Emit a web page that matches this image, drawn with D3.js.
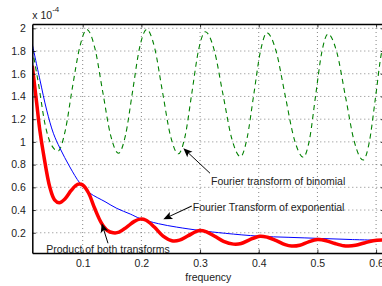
<!DOCTYPE html>
<html>
  <head>
    <meta charset="utf-8">
    <script src="https://d3js.org/d3.v7.min.js"></script>
    <style type="text/css">
      body { margin: 0; background: #fff; }
      text { font-family: "Liberation Sans", Arial, sans-serif; fill: #222; }
      .grid line { stroke: #666; stroke-width: 0.8; stroke-dasharray: 1,3; }
    </style>
  </head>
  <body>
    <div class="plot_canvas"></div>
    <script>
      // frequency samples and values (units of 1e-4)
      var freqBinomial = [0.0141, 0.025, 0.036, 0.047, 0.058,
        0.0703, 0.0825, 0.0948, 0.107, 0.1205, 0.134, 0.1475, 0.161,
        0.173, 0.185, 0.197, 0.209, 0.2225, 0.236, 0.2495, 0.263,
        0.2745, 0.286, 0.2975, 0.309, 0.324, 0.339, 0.354, 0.369,
        0.380, 0.3915, 0.403, 0.414, 0.4295, 0.445, 0.4605, 0.476,
        0.4865, 0.497, 0.5075, 0.518, 0.533, 0.548, 0.563, 0.578,
        0.5885, 0.599, 0.6095, 0.614];
      var binomial = [1.82, 1.50, 1.15, 0.97, 0.92,
        1.10, 1.48, 1.83, 1.99, 1.83, 1.445, 1.06, 0.90,
        1.06, 1.445, 1.83, 1.99, 1.83, 1.44, 1.055, 0.895,
        1.05, 1.43, 1.81, 1.97, 1.81, 1.42, 1.03, 0.87,
        1.03, 1.415, 1.80, 1.96, 1.80, 1.41, 1.025, 0.865,
        1.02, 1.41, 1.79, 1.95, 1.79, 1.395, 1.00, 0.84,
        1.00, 1.39, 1.79, 1.87];

      var freqExponential = [0.0141, 0.0272, 0.0386, 0.05, 0.0613, 0.078, 0.0954,
        0.112, 0.138, 0.158, 0.181, 0.198, 0.229, 0.26, 0.30, 0.343,
        0.40, 0.45, 0.505, 0.56, 0.614];
      var exponential = [1.86, 1.544, 1.28, 1.076, 0.944, 0.78, 0.636,
        0.55, 0.474, 0.415, 0.365, 0.325, 0.28, 0.25, 0.22, 0.195,
        0.17, 0.16, 0.15, 0.14, 0.133];

      var freqProduct = [0.0141, 0.0216, 0.027, 0.033, 0.044, 0.052, 0.060,
        0.070, 0.080, 0.088, 0.094, 0.100, 0.110, 0.120, 0.132, 0.142,
        0.152, 0.162, 0.175, 0.188, 0.198, 0.208, 0.222, 0.237, 0.252,
        0.265, 0.28, 0.293, 0.30, 0.31, 0.325, 0.34, 0.357, 0.37, 0.385,
        0.402, 0.415, 0.43, 0.445, 0.456, 0.47, 0.485, 0.50, 0.515, 0.53,
        0.545, 0.553, 0.565, 0.58, 0.595, 0.61, 0.614];
      var product = [1.67, 1.34, 1.10, 0.90, 0.60, 0.49, 0.465,
        0.50, 0.57, 0.615, 0.629, 0.62, 0.55, 0.42, 0.285, 0.22,
        0.20, 0.205, 0.25, 0.30, 0.32, 0.31, 0.25, 0.17, 0.13,
        0.135, 0.175, 0.21, 0.22, 0.21, 0.17, 0.125, 0.10, 0.105, 0.14,
        0.17, 0.16, 0.13, 0.095, 0.083, 0.09, 0.12, 0.14, 0.13, 0.105,
        0.085, 0.083, 0.09, 0.11, 0.13, 0.137, 0.137];

      var xTicks = [0.1, 0.2, 0.3, 0.4, 0.5, 0.6];
      var yTicks = [0.2, 0.4, 0.6, 0.8, 1, 1.2, 1.4, 1.6, 1.8, 2];

      // annotations: label, arrow tail and head in data units
      var noteLabels = ["Fourier transform of binomial", "Fourier Transform of exponential", "Product of both transforms"];
      var noteTails = [[0.317, 0.724], [0.2858, 0.4357], [0.1431, 0.1074]];
      var noteHeads = [[0.2715, 0.944], [0.2374, 0.3187], [0.1324, 0.2835]];

      var width = 382, height = 286;
      var pLeft = 32.3, pRight = 384.3, pTop = 24, pBottom = 253;

      var xScale = d3.scaleLinear().domain([0.0141, 0.614]).range([pLeft, pRight]);
      var yScale = d3.scaleLinear().domain([0.0218, 2.0379]).range([pBottom, pTop]);

      var svg = d3.select(".plot_canvas").append("svg")
        .attr("width", width)
        .attr("height", height);

      svg.append("clipPath").attr("id", "clip")
        .append("rect")
        .attr("x", pLeft).attr("y", pTop)
        .attr("width", pRight - pLeft).attr("height", pBottom - pTop);

      // grid
      var grid = svg.append("g").attr("class", "grid");
      grid.selectAll(".gx").data(xTicks).enter().append("line")
        .attr("x1", function(d) { return xScale(d); })
        .attr("x2", function(d) { return xScale(d); })
        .attr("y1", pTop).attr("y2", pBottom);
      grid.selectAll(".gy").data(yTicks).enter().append("line")
        .attr("y1", function(d) { return yScale(d); })
        .attr("y2", function(d) { return yScale(d); })
        .attr("x1", pLeft).attr("x2", pRight);

      function series(fs, vs) {
        return fs.map(function(f, i) { return [f, vs[i]]; });
      }

      var line = d3.line()
        .x(function(d) { return xScale(d[0]); })
        .y(function(d) { return yScale(d[1]); });

      var plots = svg.append("g").attr("clip-path", "url(#clip)");

      plots.append("path")
        .attr("d", line.curve(d3.curveMonotoneX)(series(freqBinomial, binomial)))
        .attr("fill", "none")
        .attr("stroke", "#008000")
        .attr("stroke-width", 1.1)
        .attr("stroke-dasharray", "5,4");

      plots.append("path")
        .attr("d", line.curve(d3.curveCatmullRom)(series(freqExponential, exponential)))
        .attr("fill", "none")
        .attr("stroke", "#0000ff")
        .attr("stroke-width", 1);

      plots.append("path")
        .attr("d", line.curve(d3.curveCatmullRom)(series(freqProduct, product)))
        .attr("fill", "none")
        .attr("stroke", "#ff0000")
        .attr("stroke-width", 3.5)
        .attr("stroke-linejoin", "round");

      // axes (box with inward ticks)
      var xAxisB = d3.axisBottom(xScale).tickValues(xTicks).tickSizeInner(-3.5).tickSizeOuter(0).tickPadding(7)
        .tickFormat(d3.format(".1f"));
      var xAxisT = d3.axisTop(xScale).tickValues(xTicks).tickSizeInner(-3.5).tickSizeOuter(0).tickFormat("");
      var yAxisL = d3.axisLeft(yScale).tickValues(yTicks).tickSizeInner(-3.5).tickSizeOuter(0).tickPadding(6.5)
        .tickFormat(function(d) { return String(+d.toFixed(1)); });
      var yAxisR = d3.axisRight(yScale).tickValues(yTicks).tickSizeInner(-3.5).tickSizeOuter(0).tickFormat("");

      [[xAxisB, "translate(0," + pBottom + ")"], [xAxisT, "translate(0," + pTop + ")"],
       [yAxisL, "translate(" + pLeft + ",0)"], [yAxisR, "translate(" + pRight + ",0)"]].forEach(function(a) {
        var g = svg.append("g").attr("transform", a[1]).call(a[0]);
        g.select(".domain").attr("stroke", "#000").attr("stroke-width", 1.5);
        g.selectAll(".tick line").attr("stroke", "#000").attr("stroke-width", 0.8);
        g.selectAll(".tick text").attr("font-size", "10.5px").attr("fill", "#222")
          .attr("font-family", "Liberation Sans, Arial, sans-serif");
      });

      // exponent label
      var expo = svg.append("text").attr("x", pLeft).attr("y", 18.5).attr("font-size", "10.5px");
      expo.append("tspan").text("x 10");
      expo.append("tspan").attr("dy", -6.5).attr("font-size", "8px").text("-4");

      svg.append("text")
        .attr("x", (pLeft + pRight) / 2)
        .attr("y", 281)
        .attr("text-anchor", "middle")
        .attr("font-size", "10.5px")
        .text("frequency");

      // arrows
      var noteOffsets = [[1, 7.5, "start"], [1, 0.7, "start"], [0, 5.5, "middle"]];
      noteLabels.forEach(function(label, i) {
        var x0 = xScale(noteTails[i][0]), y0 = yScale(noteTails[i][1]);
        var x1 = xScale(noteHeads[i][0]), y1 = yScale(noteHeads[i][1]);
        var ang = Math.atan2(y1 - y0, x1 - x0) * 180 / Math.PI;
        var len = Math.hypot(x1 - x0, y1 - y0);
        var g = svg.append("g").attr("transform", "translate(" + x0 + "," + y0 + ") rotate(" + ang + ")");
        g.append("line").attr("x1", 0).attr("y1", 0).attr("x2", len - 5).attr("y2", 0)
          .attr("stroke", "#000").attr("stroke-width", 0.9);
        g.append("path")
          .attr("d", "M" + len + ",0 L" + (len - 9) + ",-3.8 L" + (len - 7) + ",0 L" + (len - 9) + ",3.8 Z")
          .attr("fill", "#000");
        svg.append("text")
          .attr("x", x0 + noteOffsets[i][0])
          .attr("y", y0 + noteOffsets[i][1])
          .attr("text-anchor", noteOffsets[i][2])
          .attr("dominant-baseline", "central")
          .attr("font-size", "10.5px")
          .text(label);
      });
    </script>
  </body>
</html>
